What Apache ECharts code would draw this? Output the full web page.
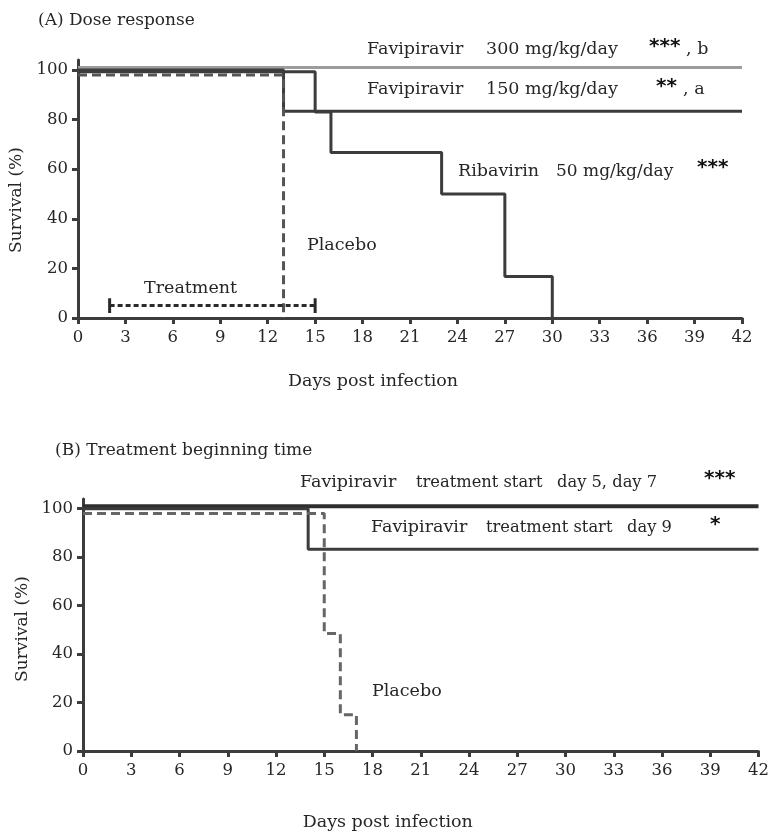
<!DOCTYPE html>
<html><head><meta charset="utf-8">
<script src="https://cdn.jsdelivr.net/npm/echarts@6/dist/echarts.min.js"></script>
<style>html,body{margin:0;padding:0;background:#fff}#c{width:772px;height:832px}</style>
</head><body><div id="c"></div>
<script>
// ---- Data ----
const xTicks = [0,3,6,9,12,15,18,21,24,27,30,33,36,39,42];
const yTicks = [0,20,40,60,80,100];
// Panel A (dose response): [day, survival %]
const aFav300 = [[0,101],[42,101]];
const aFav150 = [[0,100],[13,83.3],[42,83.3]];
const aRiba50 = [[0,99.3],[15,83],[16,66.7],[23,50],[27,16.7],[30,0]];
const aPlacebo = [[0,98],[13,0]];
const treatment = [2,15];      // treatment days
const treatmentLevel = 5;      // drawn at survival 5
const treatmentCap = [2,8];    // cap extent
// Panel B (treatment beginning time)
const bFav57 = [[0,101],[42,101]];
const bFav9 = [[0,100],[14,83.3],[42,83.3]];
const bPlacebo = [[0,98],[15,48.5],[16,15],[17,0]];

const FONT = 'DejaVu Serif';
const FS = 17;
const TXT = '#262626';
const DARK = '#3c3c3c';

function xAxis(gi, nameGap, padR){
  return {type:'value', gridIndex:gi, min:0, max:42, interval:3,
    name:'Days post infection', nameLocation:'middle', nameGap:nameGap,
    nameTextStyle:{fontFamily:FONT, fontSize:17.5, color:TXT, padding:[0,padR,0,0]},
    axisLine:{lineStyle:{color:DARK, width:3}},
    axisTick:{show:true, length:6, lineStyle:{color:DARK, width:3}},
    axisLabel:{fontFamily:FONT, fontSize:16.5, color:TXT, margin:11},
    splitLine:{show:false}};
}
function yAxis(gi, nameGap, padR){
  return {type:'value', gridIndex:gi, min:0, max:104,
    name:'Survival (%)', nameLocation:'middle', nameGap:nameGap, nameRotate:90,
    nameTextStyle:{fontFamily:FONT, fontSize:FS, color:TXT, padding:[0,padR,0,0]},
    axisLine:{show:true, lineStyle:{color:DARK, width:3}},
    axisTick:{show:true, length:6, lineStyle:{color:DARK, width:3}, customValues:yTicks},
    axisLabel:{fontFamily:FONT, fontSize:16.5, color:TXT, margin:10, customValues:yTicks},
    splitLine:{show:false}};
}
function stepLine(xi, data, color, dash, width){
  return {type:'line', xAxisIndex:xi, yAxisIndex:xi, data:data, step:'end',
    symbol:'none', clip:false, silent:true,
    lineStyle:{color:color, width:width||3, type:dash||'solid'}, z: dash?3:2};
}
function seg(xi, data, dash){
  return {type:'line', xAxisIndex:xi, yAxisIndex:xi, data:data, symbol:'none', silent:true,
    lineStyle:{color:'#2a2a2a', width:3, type:dash||'solid'}};
}
function txt(x,top,s,fs){
  return {type:'text', left:x, top:top, style:{text:s, fill:TXT,
    font:(fs||17.5)+'px "'+FONT+'"'}};
}
function stars(x,y,s){
  return {type:'text', left:x, top:y, style:{text:s, fill:'#111', font:'bold 20px "DejaVu Sans"'}};
}

const chart = echarts.init(document.getElementById('c'));
chart.setOption({
  animation:false,
  grid:[
    {left:73, top:60, width:669, height:258},
    {left:83, top:499, width:681, height:262}
  ],
  xAxis:[xAxis(0,54,74), xAxis(1,62,66)],
  yAxis:[yAxis(0,53,22), yAxis(1,51,8)],
  series:[
    stepLine(0, aFav300, '#9c9c9c'),
    stepLine(0, aFav150, DARK),
    stepLine(0, aRiba50, DARK),
    stepLine(0, aPlacebo, '#555', [9,5]),
    seg(0, [[treatment[0],treatmentLevel],[treatment[1],treatmentLevel]], [5,3]),
    seg(0, [[treatment[0],treatmentCap[0]],[treatment[0],treatmentCap[1]]]),
    seg(0, [[treatment[1],treatmentCap[0]],[treatment[1],treatmentCap[1]]]),
    stepLine(1, bFav57, '#2e2e2e', null, 4),
    stepLine(1, bFav9, DARK),
    stepLine(1, bPlacebo, '#666', [9,5])
  ],
  graphic:[
    txt(38,12,'(A) Dose response',17),
    txt(367,40,'Favipiravir'), txt(486,40,'300 mg/kg/day'),
    stars(649,37,'***'), txt(686,40,', b'),
    txt(367,80,'Favipiravir'), txt(486,80,'150 mg/kg/day'),
    stars(656,77,'**'), txt(683,80,', a'),
    txt(458,162,'Ribavirin'), txt(556,163,'50 mg/kg/day',17),
    stars(697,158,'***'),
    txt(307,236,'Placebo'),
    txt(144,279,'Treatment'),
    txt(55,442,'(B) Treatment beginning time',17),
    txt(300,473,'Favipiravir'), txt(416,475,'treatment start',16.3), txt(557,475,'day 5, day 7',16.3),
    stars(704,469,'***'),
    txt(371,518,'Favipiravir'), txt(486,520,'treatment start',16.3), txt(627,520,'day 9',16.3),
    stars(710,515,'*'),
    txt(372,682,'Placebo')
  ]
});
</script></body></html>
